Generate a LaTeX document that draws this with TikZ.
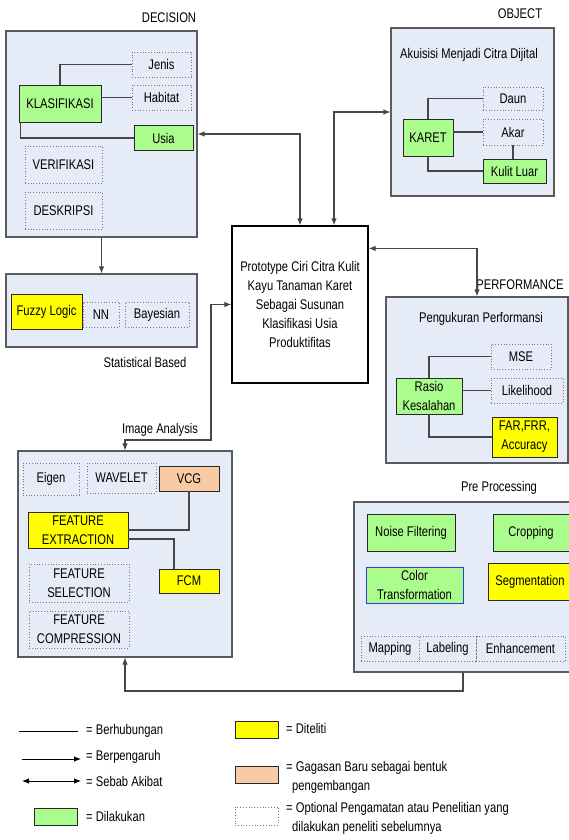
\documentclass[tikz,border=0pt]{standalone}
\usepackage{fontspec}
\setmainfont[FakeStretch=0.8]{Liberation Sans}
\usetikzlibrary{arrows.meta}

\definecolor{panelblue}{RGB}{229,235,247}
\definecolor{panelline}{RGB}{90,90,95}
\definecolor{boxline}{RGB}{40,40,40}
\definecolor{optline}{RGB}{120,120,120}
\definecolor{linkgray}{RGB}{70,70,70}
\definecolor{dogreen}{RGB}{170,253,140}
\definecolor{doyellow}{RGB}{255,255,0}
\definecolor{dopeach}{RGB}{248,203,166}
\definecolor{doblue}{RGB}{40,60,230}

\begin{document}
\begin{tikzpicture}[x=1pt, y=-1pt,
    font=\fontsize{14pt}{19pt}\selectfont,
    >={Latex[length=7pt,width=5.5pt]},
    panel/.style={draw=panelline, fill=panelblue, line width=1.1pt},
    box/.style={draw=boxline, line width=0.9pt, inner sep=2pt, align=center},
    greenbox/.style={box, fill=dogreen},
    yellowbox/.style={box, fill=doyellow},
    peachbox/.style={box, fill=dopeach},
    optbox/.style={draw=optline, dotted, line width=0.8pt, inner sep=2pt, align=center},
    link/.style={draw=linkgray, line width=1.1pt},
    legtext/.style={anchor=west, align=left, inner sep=0pt}]

    \clip (0,0) rectangle (569,840);
    \fill[white] (0,0) rectangle (569,840);

    % panels
    \node[panel, minimum width=191pt, minimum height=206pt] (decision) at (101.5,134) {};
    \node[panel, minimum width=191pt, minimum height=73pt] (stat) at (101.5,310.5) {};
    \node[panel, minimum width=163pt, minimum height=168pt] (object) at (472.5,112) {};
    \node[panel, minimum width=182pt, minimum height=166pt] (perf) at (477,380) {};
    \node[panel, minimum width=214pt, minimum height=206pt] (img) at (125,554) {};
    \node[panel, minimum width=230pt, minimum height=170pt] (pre) at (469,587) {};

    \node (tdecision) at (169,18) {DECISION};
    \node (tobject) at (520,14) {OBJECT};
    \node (tperf) at (520,285) {PERFORMANCE};
    \node (tstat) at (145,362) {Statistical Based};
    \node (timg) at (160,430) {Image Analysis};
    \node (tpre) at (499,488) {Pre Processing};

    % centre
    \node[draw=black, fill=white, line width=1.2pt, minimum width=136pt, minimum height=157pt, align=center] (cen) at (300,304.5)
        {Prototype Ciri Citra Kulit\\Kayu Tanaman Karet\\Sebagai Susunan\\Klasifikasi Usia\\Produktifitas};

    % decision
    \node[optbox, minimum width=59pt, minimum height=25pt] (jenis) at (161.5,64.5) {Jenis};
    \node[optbox, minimum width=59pt, minimum height=25pt] (habitat) at (161.5,97.5) {Habitat};
    \node[greenbox, minimum width=82pt, minimum height=37pt] (klas) at (60,103.5) {KLASIFIKASI};
    \node[greenbox, minimum width=59pt, minimum height=25pt] (usia) at (163.5,138) {Usia};
    \node[optbox, minimum width=77pt, minimum height=37pt] (verif) at (63.5,164.5) {VERIFIKASI};
    \node[optbox, minimum width=77pt, minimum height=37pt] (deskripsi) at (63.5,210.5) {DESKRIPSI};

    \draw[link] (klas.north) |- (jenis.west);
    \draw[link] (klas.east |- habitat.west) -- (habitat.west);
    \draw[link] ([xshift=2pt]klas.south west) |- (usia.west);

    % statistical
    \node[yellowbox, minimum width=71pt, minimum height=35pt] (fuzzy) at (46.5,311.5) {Fuzzy Logic};
    \node[optbox, minimum width=36pt, minimum height=25pt] (nn) at (101,314.5) {NN};
    \node[optbox, minimum width=64pt, minimum height=25pt] (bayes) at (157,314.5) {Bayesian};

    % object
    \node (takuisisi) at (469,55) {Akuisisi Menjadi Citra Dijital};
    \node[optbox, minimum width=60pt, minimum height=23pt] (daun) at (513,98.5) {Daun};
    \node[optbox, minimum width=60pt, minimum height=26pt] (akar) at (513,132) {Akar};
    \node[greenbox, minimum width=50pt, minimum height=37pt] (karet) at (428,137.5) {KARET};
    \node[greenbox, minimum width=63pt, minimum height=24pt] (kulit) at (514.5,171) {Kulit Luar};

    \draw[link] (karet.north) |- (daun.west);
    \draw[link] (karet.east |- akar.west) -- (akar.west);
    \draw[link] (karet.south) |- (kulit.west);
    \draw[link] (akar.south) -- (akar.south |- kulit.north);

    % performance
    \node (tukur) at (481,319) {Pengukuran Performansi};
    \node[optbox, minimum width=60pt, minimum height=25pt] (mse) at (521,356.5) {MSE};
    \node[optbox, minimum width=72pt, minimum height=25pt] (like) at (527,390.5) {Likelihood};
    \node[greenbox, minimum width=66pt, minimum height=36pt] (rasio) at (429,396) {Rasio\\Kesalahan};
    \node[yellowbox, minimum width=65pt, minimum height=40pt] (far) at (524.5,437) {FAR,FRR,\\Accuracy};

    \draw[link] (rasio.north) |- (mse.west);
    \draw[link] (rasio.east |- like.west) -- (like.west);
    \draw[link] (rasio.south) |- (far.west);

    % image analysis
    \node[optbox, minimum width=56pt, minimum height=32pt] (eigen) at (51,479) {Eigen};
    \node[optbox, minimum width=69pt, minimum height=30pt] (wavelet) at (121.5,478) {WAVELET};
    \node[peachbox, minimum width=60pt, minimum height=25pt] (vcg) at (189,478.5) {VCG};
    \node[yellowbox, minimum width=100pt, minimum height=36pt] (fext) at (78,530) {FEATURE\\EXTRACTION};
    \node[optbox, minimum width=100pt, minimum height=38pt] (fsel) at (79,583) {FEATURE\\SELECTION};
    \node[optbox, minimum width=100pt, minimum height=37pt] (fcomp) at (79,629.5) {FEATURE\\COMPRESSION};
    \node[yellowbox, minimum width=60pt, minimum height=24pt] (fcm) at (189,581) {FCM};

    \draw[link] (fext.east) -| (vcg.south);
    \draw[link] ([yshift=-9pt]fext.east) -| ([xshift=-15pt]fcm.north);

    % pre processing
    \node[greenbox, minimum width=88pt, minimum height=37pt] (noise) at (411,532.5) {Noise Filtering};
    \node[greenbox, minimum width=76pt, minimum height=37pt] (crop) at (531,532.5) {Cropping};
    \node[greenbox, draw=doblue, minimum width=97pt, minimum height=36pt] (color) at (414.5,585) {Color\\Transformation};
    \node[yellowbox, minimum width=84pt, minimum height=37pt] (seg) at (530,581.5) {Segmentation};
    \node[optbox, minimum width=58pt, minimum height=25pt] (mapping) at (390,648.5) {Mapping};
    \node[optbox, minimum width=57pt, minimum height=25pt] (labeling) at (447.5,648.5) {Labeling};
    \node[optbox, minimum width=89pt, minimum height=25pt] (enhance) at (520.5,648.5) {Enhancement};

    % connectors between panels
    \draw[link, <->] (decision.east) -| (cen.north);
    \draw[link, <->] (object.west) -| ([xshift=34pt]cen.north);
    \draw[link, <->] ([yshift=-23pt]cen.north east) -| (perf.north);
    \draw[link, ->] (decision.south) -- (stat.north);

    \coordinate (iabend) at (211,440);
    \draw[link, <->] (img.north) |- (iabend) |- (cen.west);

    \coordinate (prebend) at (463,691);
    \draw[link, ->] (pre.south -| prebend) -- (prebend) -| (img.south);

    % legend
    \node[legtext] (lberh) at (86,731) {= Berhubungan};
    \node[legtext] (lpeng) at (86,757) {= Berpengaruh};
    \node[legtext] (lsebab) at (86,781) {= Sebab Akibat};
    \node[legtext] (llaku) at (86,816) {= Dilakukan};
    \coordinate (lberhend) at (19,731);
    \coordinate (lpengend) at (22,759);
    \coordinate (lsebabend) at (22,781);
    \draw[black, line width=0.9pt] (lberhend) -- ([xshift=-8pt]lberh.west);
    \draw[black, line width=0.9pt, ->] (lpengend) -- ([xshift=-5pt]lpeng.west |- lpengend);
    \draw[black, line width=0.9pt, <->] (lsebabend) -- ([xshift=-5pt]lsebab.west);
    \node[greenbox, minimum width=43pt, minimum height=17pt] (lgreen) at (55.5,816.5) {};

    \node[yellowbox, minimum width=43pt, minimum height=17pt] (lyellow) at (256.5,729.5) {};
    \node[peachbox, minimum width=43pt, minimum height=17pt] (lpeach) at (256.5,774.5) {};
    \node[optbox, fill=white, minimum width=43pt, minimum height=18pt] (lopt) at (256.5,816) {};
    \node[legtext] (lteliti) at (286,728) {= Diteliti};
    \node[legtext] (lgagas) at (286,777) {= Gagasan Baru sebagai bentuk\\\hspace*{6pt}pengembangan};
    \node[legtext] (loption) at (286,818) {= Optional Pengamatan atau Penelitian yang\\\hspace*{6pt}dilakukan peneliti sebelumnya};

\end{tikzpicture}
\end{document}
